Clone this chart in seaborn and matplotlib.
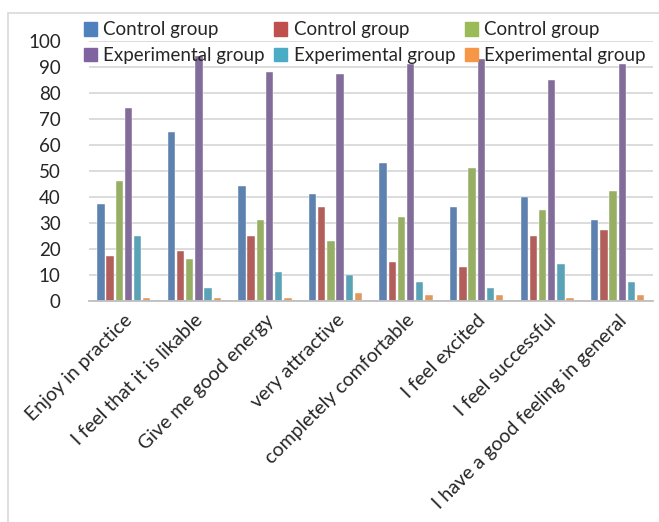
import matplotlib
matplotlib.use("Agg")
import matplotlib.pyplot as plt
import seaborn as sns
import pandas as pd
from matplotlib.patches import Rectangle, Patch

# categories and series values
categories = ["Enjoy in practice", "I feel that it is likable", "Give me good energy",
              "very attractive", "completely comfortable", "I feel excited",
              "I feel successful", "I have a good feeling in general"]
control_1 = [37, 65, 44, 41, 53, 36, 40, 31]
control_2 = [17, 19, 25, 36, 15, 13, 25, 27]
control_3 = [46, 16, 31, 23, 32, 51, 35, 42]
experimental_1 = [74, 94, 88, 87, 91, 93, 85, 91]
experimental_2 = [25, 5, 11, 10, 7, 5, 14, 7]
experimental_3 = [1, 1, 1, 3, 2, 2, 1, 2]

series_keys = ["c1", "c2", "c3", "e1", "e2", "e3"]
series_labels = ["Control group", "Control group", "Control group",
                 "Experimental group", "Experimental group", "Experimental group"]
colors = ["#4F81BD", "#C0504D", "#9BBB59", "#8064A2", "#4BACC6", "#F79646"]

rows = []
for key, vals in zip(series_keys, [control_1, control_2, control_3,
                                   experimental_1, experimental_2, experimental_3]):
    for cat, v in zip(categories, vals):
        rows.append({"category": cat, "series": key, "value": v})
df = pd.DataFrame(rows)

sns.set_style("white")
plt.rcParams["font.family"] = ["Lato", "DejaVu Sans"]

fig = plt.figure(figsize=(6.59, 5.22), dpi=100)
ax = fig.add_axes([88.5 / 659, 1 - 300.5 / 522, (653 - 88.5) / 659, 260 / 522])

sns.barplot(data=df, x="category", y="value", hue="series", hue_order=series_keys,
            palette=colors, width=0.78, gap=0.2, ax=ax, legend=False,
            edgecolor="white", linewidth=0.3)

ax.set_ylim(0, 100)
ax.set_yticks(range(0, 101, 10))
ax.yaxis.grid(True, color="#d9d9d9", linewidth=1.3)
ax.set_axisbelow(True)
for s in ["left", "right", "top"]:
    ax.spines[s].set_visible(False)
ax.spines["bottom"].set_color("#bfbfbf")
ax.spines["bottom"].set_linewidth(1.3)
ax.set_xlabel("")
ax.set_ylabel("")
ax.tick_params(axis="y", length=0, pad=20, labelsize=13.5)
ax.tick_params(axis="x", length=0, pad=8, labelsize=14)
plt.setp(ax.get_xticklabels(), rotation=45, ha="right", rotation_mode="anchor")

handles = [Patch(color=c) for c in colors]
order = [0, 3, 1, 4, 2, 5]
leg = fig.legend([handles[i] for i in order], [series_labels[i] for i in order],
                 ncol=3, loc="upper left", bbox_to_anchor=(76 / 659, 1 - 14 / 522),
                 frameon=False, fontsize=13.5, handlelength=0.7, handleheight=0.7,
                 handletextpad=0.35, columnspacing=0.5, labelspacing=0.45,
                 borderaxespad=0)

# outer chart border
fig.patches.append(Rectangle((8 / 659, -0.05), 1.0, 1 - 13 / 522 + 0.05,
                             transform=fig.transFigure, fill=False,
                             edgecolor="#d9d9d9", linewidth=1.2))

fig.savefig("out.png", dpi=100)
